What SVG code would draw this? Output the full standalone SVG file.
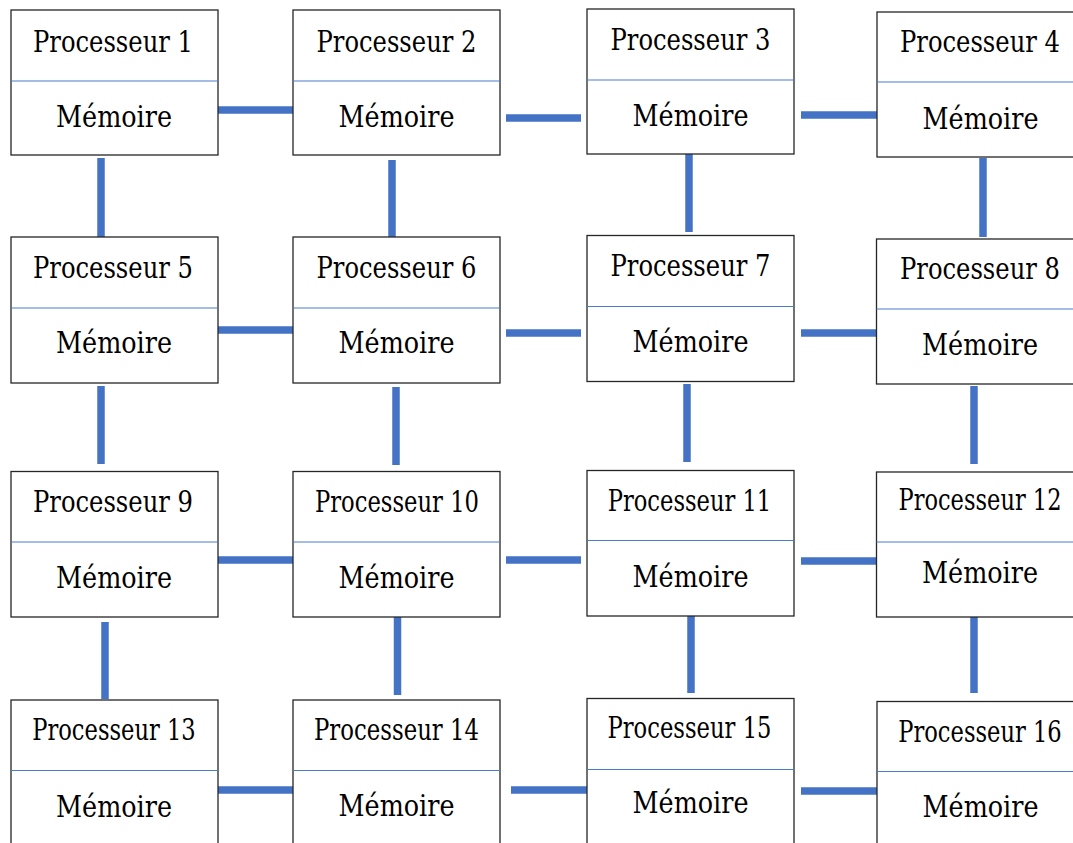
<svg xmlns="http://www.w3.org/2000/svg" width="1073" height="843" viewBox="0 0 1073 843">
  <style>
    .box { fill: #ffffff; stroke: #262626; stroke-width: 1.3; }
    .div { stroke: #4a7bd0; stroke-width: 1.2; }
    .link { stroke: #4472c4; stroke-width: 7.5; stroke-linecap: butt; fill: none; }
    .lbl { font-size: 29px; fill: #000000; text-anchor: middle; }
  </style>
  <rect width="1073" height="843" fill="#ffffff"/>

  <!-- mesh links between neighbouring nodes -->
  <g id="connectors">
    <line class="link" x1="218" y1="110" x2="294" y2="110"/>
    <line class="link" x1="506" y1="118" x2="581" y2="118"/>
    <line class="link" x1="801" y1="115" x2="877" y2="115"/>
    <line class="link" x1="218" y1="330" x2="293" y2="330"/>
    <line class="link" x1="506" y1="333" x2="581" y2="333"/>
    <line class="link" x1="801" y1="333" x2="876" y2="333"/>
    <line class="link" x1="218" y1="560" x2="293" y2="560"/>
    <line class="link" x1="506" y1="560" x2="581" y2="560"/>
    <line class="link" x1="801" y1="561" x2="876" y2="561"/>
    <line class="link" x1="218" y1="790" x2="293" y2="790"/>
    <line class="link" x1="511" y1="790" x2="587" y2="790"/>
    <line class="link" x1="801" y1="791" x2="877" y2="791"/>

    <line class="link" x1="101" y1="158" x2="101" y2="237"/>
    <line class="link" x1="392" y1="160" x2="392" y2="238"/>
    <line class="link" x1="689" y1="154" x2="689" y2="232"/>
    <line class="link" x1="983" y1="158" x2="983" y2="237"/>
    <line class="link" x1="101" y1="386" x2="101" y2="464"/>
    <line class="link" x1="396" y1="387" x2="396" y2="465"/>
    <line class="link" x1="687" y1="384" x2="687" y2="462"/>
    <line class="link" x1="974" y1="386" x2="974" y2="464"/>
    <line class="link" x1="105" y1="622" x2="105" y2="699"/>
    <line class="link" x1="397.5" y1="617" x2="397.5" y2="695"/>
    <line class="link" x1="691" y1="616" x2="691" y2="693"/>
    <line class="link" x1="974" y1="616" x2="974" y2="693"/>
  </g>

  <!-- all labels share one serif face; fixed lengths keep widths stable -->
  <g font-family="DejaVu Serif, Liberation Serif, serif">
  <!-- row 1 -->
  <g id="p1">
    <rect class="box" x="11" y="10" width="207" height="145"/>
    <line class="div" x1="11" y1="81" x2="218" y2="81"/>
    <text class="lbl" x="113" y="52" textLength="160" lengthAdjust="spacingAndGlyphs">Processeur 1</text>
    <text class="lbl" x="114" y="127" textLength="116" lengthAdjust="spacingAndGlyphs">Mémoire</text>
  </g>
  <g id="p2">
    <rect class="box" x="293" y="10" width="207" height="145"/>
    <line class="div" x1="293" y1="81" x2="500" y2="81"/>
    <text class="lbl" x="396.5" y="52" textLength="160" lengthAdjust="spacingAndGlyphs">Processeur 2</text>
    <text class="lbl" x="396.5" y="127" textLength="116" lengthAdjust="spacingAndGlyphs">Mémoire</text>
  </g>
  <g id="p3">
    <rect class="box" x="587" y="9" width="207" height="145"/>
    <line class="div" x1="587" y1="80" x2="794" y2="80"/>
    <text class="lbl" x="690.5" y="49.5" textLength="160" lengthAdjust="spacingAndGlyphs">Processeur 3</text>
    <text class="lbl" x="690.5" y="126" textLength="116" lengthAdjust="spacingAndGlyphs">Mémoire</text>
  </g>
  <g id="p4">
    <rect class="box" x="877" y="12" width="207" height="145"/>
    <line class="div" x1="877" y1="82" x2="1084" y2="82"/>
    <text class="lbl" x="980" y="52" textLength="160" lengthAdjust="spacingAndGlyphs">Processeur 4</text>
    <text class="lbl" x="980.5" y="128.5" textLength="116" lengthAdjust="spacingAndGlyphs">Mémoire</text>
  </g>

  <!-- row 2 -->
  <g id="p5">
    <rect class="box" x="11" y="237" width="207" height="146"/>
    <line class="div" x1="11" y1="308" x2="218" y2="308"/>
    <text class="lbl" x="113" y="278" textLength="160" lengthAdjust="spacingAndGlyphs">Processeur 5</text>
    <text class="lbl" x="114" y="353" textLength="116" lengthAdjust="spacingAndGlyphs">Mémoire</text>
  </g>
  <g id="p6">
    <rect class="box" x="293" y="237" width="207" height="146"/>
    <line class="div" x1="293" y1="308" x2="500" y2="308"/>
    <text class="lbl" x="396.5" y="278" textLength="160" lengthAdjust="spacingAndGlyphs">Processeur 6</text>
    <text class="lbl" x="396.5" y="353" textLength="116" lengthAdjust="spacingAndGlyphs">Mémoire</text>
  </g>
  <g id="p7">
    <rect class="box" x="587" y="235.5" width="207" height="146"/>
    <line class="div" x1="587" y1="306.5" x2="794" y2="306.5"/>
    <text class="lbl" x="690.5" y="275.5" textLength="160" lengthAdjust="spacingAndGlyphs">Processeur 7</text>
    <text class="lbl" x="690.5" y="351.5" textLength="116" lengthAdjust="spacingAndGlyphs">Mémoire</text>
  </g>
  <g id="p8">
    <rect class="box" x="876.5" y="239" width="207" height="145"/>
    <line class="div" x1="876.5" y1="309" x2="1084" y2="309"/>
    <text class="lbl" x="980" y="279" textLength="160" lengthAdjust="spacingAndGlyphs">Processeur 8</text>
    <text class="lbl" x="980" y="355" textLength="116" lengthAdjust="spacingAndGlyphs">Mémoire</text>
  </g>

  <!-- row 3 -->
  <g id="p9">
    <rect class="box" x="11" y="471.5" width="207" height="145.5"/>
    <line class="div" x1="11" y1="542" x2="218" y2="542"/>
    <text class="lbl" x="113" y="511.5" textLength="160" lengthAdjust="spacingAndGlyphs">Processeur 9</text>
    <text class="lbl" x="114" y="588" textLength="116" lengthAdjust="spacingAndGlyphs">Mémoire</text>
  </g>
  <g id="p10">
    <rect class="box" x="293" y="471.5" width="207" height="145.5"/>
    <line class="div" x1="293" y1="542" x2="500" y2="542"/>
    <text class="lbl" x="397" y="511.5" textLength="164" lengthAdjust="spacingAndGlyphs">Processeur 10</text>
    <text class="lbl" x="396.5" y="588" textLength="116" lengthAdjust="spacingAndGlyphs">Mémoire</text>
  </g>
  <g id="p11">
    <rect class="box" x="587" y="470.5" width="207" height="145.5"/>
    <line class="div" x1="587" y1="540.5" x2="794" y2="540.5"/>
    <text class="lbl" x="689.5" y="511" textLength="163.5" lengthAdjust="spacingAndGlyphs">Processeur 11</text>
    <text class="lbl" x="690.5" y="586.5" textLength="116" lengthAdjust="spacingAndGlyphs">Mémoire</text>
  </g>
  <g id="p12">
    <rect class="box" x="876.5" y="472" width="207" height="145"/>
    <line class="div" x1="876.5" y1="542" x2="1084" y2="542"/>
    <text class="lbl" x="980" y="510" textLength="163" lengthAdjust="spacingAndGlyphs">Processeur 12</text>
    <text class="lbl" x="980" y="583" textLength="116" lengthAdjust="spacingAndGlyphs">Mémoire</text>
  </g>

  <!-- row 4 -->
  <g id="p13">
    <rect class="box" x="11" y="700" width="207" height="145"/>
    <line class="div" x1="11" y1="770.5" x2="218" y2="770.5"/>
    <text class="lbl" x="114" y="740" textLength="163.5" lengthAdjust="spacingAndGlyphs">Processeur 13</text>
    <text class="lbl" x="114" y="816.5" textLength="116" lengthAdjust="spacingAndGlyphs">Mémoire</text>
  </g>
  <g id="p14">
    <rect class="box" x="293" y="700" width="207" height="145"/>
    <line class="div" x1="293" y1="770.5" x2="500" y2="770.5"/>
    <text class="lbl" x="396.5" y="740" textLength="165" lengthAdjust="spacingAndGlyphs">Processeur 14</text>
    <text class="lbl" x="396.5" y="816" textLength="116" lengthAdjust="spacingAndGlyphs">Mémoire</text>
  </g>
  <g id="p15">
    <rect class="box" x="587" y="698.5" width="207" height="146"/>
    <line class="div" x1="587" y1="769.5" x2="794" y2="769.5"/>
    <text class="lbl" x="689.5" y="738" textLength="164" lengthAdjust="spacingAndGlyphs">Processeur 15</text>
    <text class="lbl" x="690.5" y="813" textLength="116" lengthAdjust="spacingAndGlyphs">Mémoire</text>
  </g>
  <g id="p16">
    <rect class="box" x="877" y="701.5" width="207" height="145"/>
    <line class="div" x1="877" y1="771.5" x2="1084" y2="771.5"/>
    <text class="lbl" x="980" y="742" textLength="163.5" lengthAdjust="spacingAndGlyphs">Processeur 16</text>
    <text class="lbl" x="980.5" y="816.5" textLength="116" lengthAdjust="spacingAndGlyphs">Mémoire</text>
  </g>
  </g>
</svg>
